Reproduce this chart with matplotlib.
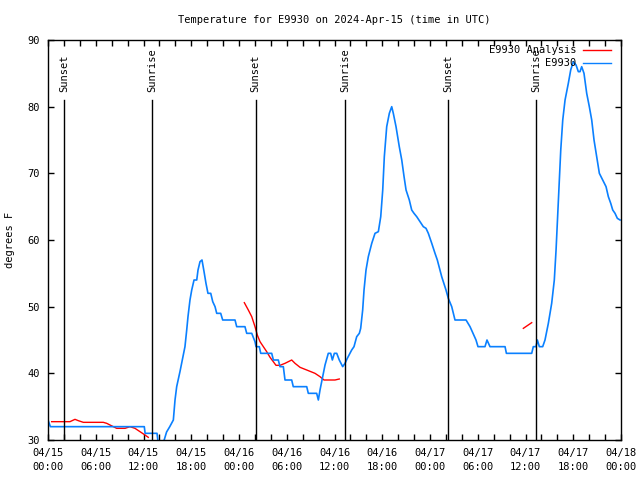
import matplotlib.pyplot as plt
import numpy as np
from matplotlib.ticker import MultipleLocator

# hours since 2024-04-15 00:00 UTC
obs_hours = [
    0.0, 0.3, 12.1, 12.2, 13.7, 13.9, 14.2, 14.6, 14.9, 15.3, 15.75, 15.96,
    16.17, 16.59, 16.96, 17.21, 17.43, 17.59, 17.84, 18.06, 18.35, 18.69,
    18.85, 19.1, 19.35, 19.6, 19.85, 20.1, 20.45, 20.7, 20.99, 21.2, 21.7,
    21.95, 23.5, 23.71, 24.75, 24.97, 25.6, 26.01, 26.14, 26.55, 26.73,
    28.11, 28.32, 28.94, 29.15, 29.57, 29.78, 30.62, 30.82, 32.51, 32.71,
    33.76, 33.97, 34.18, 34.52, 34.81, 35.22, 35.52, 35.73, 35.98, 36.28,
    36.6, 37.03, 37.32, 37.61, 38.16, 38.45, 38.79, 39.12, 39.29, 39.54,
    39.71, 39.96, 40.25, 40.68, 41.09, 41.51, 41.81, 42.06, 42.26, 42.56,
    42.89, 43.19, 43.39, 43.73, 44.14, 44.45, 44.74, 44.99, 45.4, 45.7,
    45.99, 46.33, 46.75, 47.16, 47.5, 47.79, 48.22, 48.63, 48.92, 49.47,
    50.01, 50.3, 50.73, 51.14, 51.77, 52.53, 53.03, 53.41, 53.78, 54.03,
    54.91, 55.16, 55.54, 57.43, 57.6, 60.78, 60.98, 61.32, 61.49, 61.74,
    62.16, 62.45, 62.87, 63.29, 63.62, 63.84, 64.0, 64.25, 64.43, 64.68,
    64.97, 65.38, 65.68, 66.01, 66.35, 66.64, 66.85, 67.06, 67.35, 67.69,
    68.02, 68.32, 68.61, 68.95, 69.28, 69.7, 70.12, 70.41, 70.71, 70.96,
    71.25, 71.54, 71.88,
]
obs_temps = [
    33, 32, 32, 31, 31, 29, 29, 30, 31.2, 32, 33, 36,
    38, 40.3, 42.5, 44, 46.5, 48.5, 51, 52.5, 54, 54,
    55.5, 56.75, 57, 55.3, 53.5, 52, 52, 50.75, 50, 49, 49,
    48, 48, 47, 47, 46, 46, 44.75, 44, 44, 43,
    43, 42, 42, 41, 41, 39, 39, 38, 38, 37,
    37, 36, 37.5, 39.5, 41.25, 43, 43, 42, 43, 43,
    42, 41, 41.5, 42.25, 43.5, 44, 45.5, 46, 46.75, 49.5,
    52.5, 55.5, 57.5, 59.5, 61, 61.25, 63.5, 67.5, 72.5, 77,
    79, 80, 79, 77, 74, 72, 69.5, 67.5, 66, 64.5,
    64, 63.5, 62.75, 62, 61.75, 61, 59.5, 58, 57, 54.5,
    52.5, 51.25, 50, 48, 48, 48, 47, 46, 45, 44,
    44, 45, 44, 44, 43, 43, 44, 44, 45, 44,
    44, 45, 47.5, 50.5, 54, 58.5, 62.5, 69, 73.5, 78,
    81, 83.5, 85.5, 86.75, 86.25, 85.25, 85.25, 86, 85, 82,
    80, 78, 75, 72.5, 70, 69, 68, 66.5, 65.5, 64.5,
    64, 63.25, 63,
]

# analysis series, NaN marks the gaps
ana_hours = [
    0.46, 2.76, 3.39, 3.81, 4.44, 6.95, 7.38, 7.79, 8.63, 9.68, 10.3, 10.93,
    11.56, 12.19, 12.6, np.nan,
    24.67, 25.17, 25.6, 26.01, 26.3, 26.64, 27.06, 27.48, 27.9, 28.31, 28.65,
    29.15, 29.78, 30.62, 31.04, 31.67, 32.51, 33.55, 34.18, 34.68, 36.06,
    36.6, np.nan,
    59.73, 60.78,
]
ana_temps = [
    32.75, 32.75, 33.1, 32.9, 32.65, 32.65, 32.5, 32.25, 31.75, 31.75, 32,
    31.75, 31.25, 30.75, 30.4, np.nan,
    50.6, 49.5, 48.5, 47, 45.75, 44.75, 44, 43.25, 42.4, 41.75, 41.2, 41.2,
    41.5, 42, 41.5, 40.9, 40.5, 40, 39.5, 39, 39, 39.15, np.nan,
    46.75, 47.6,
]

sun_hours = [2.0, 13.07, 26.1, 37.3, 50.25, 61.3]
sun_labels = ["Sunset", "Sunrise", "Sunset", "Sunrise", "Sunset", "Sunrise"]

tick_hours = [0, 6, 12, 18, 24, 30, 36, 42, 48, 54, 60, 66, 72]
tick_labels = [
    "04/15\n00:00", "04/15\n06:00", "04/15\n12:00", "04/15\n18:00",
    "04/16\n00:00", "04/16\n06:00", "04/16\n12:00", "04/16\n18:00",
    "04/17\n00:00", "04/17\n06:00", "04/17\n12:00", "04/17\n18:00",
    "04/18\n00:00",
]

RED = "#ff0000"
BLUE = "#0a80ff"
FONT = "DejaVu Sans Mono"
FS = 7.5

plt.rcParams["font.family"] = FONT
plt.rcParams["font.size"] = FS

fig = plt.figure(figsize=(6.4, 4.8), dpi=100)
ax = fig.add_axes([48 / 640, 40 / 480, 573 / 640, 400 / 480])

ax.plot(ana_hours, ana_temps, color=RED, lw=1.0)
ax.plot(obs_hours, obs_temps, color=BLUE, lw=1.2)

for h, lbl in zip(sun_hours, sun_labels):
    ax.plot([h, h], [30, 81], color="black", lw=1.0)
    ax.text(h, 82.2, lbl, rotation=90, ha="center", va="bottom", fontsize=FS)

ax.set_xlim(0, 72)
ax.set_ylim(30, 90)
ax.set_xticks(tick_hours)
ax.set_xticklabels(tick_labels, linespacing=1.5)
ax.xaxis.set_minor_locator(MultipleLocator(2))
ax.set_yticks(range(30, 91, 10))
ax.tick_params(which="both", direction="in", top=True, right=True,
               length=4, width=1.0, labelsize=FS, pad=6)
for s in ax.spines.values():
    s.set_linewidth(1.0)

ax.set_ylabel("degrees F", fontsize=FS, labelpad=9)
ax.set_title("Temperature for E9930 on 2024-Apr-15 (time in UTC)",
             fontsize=FS, pad=12)

# gnuplot-style key: right-aligned text with the sample to its right
key_rows = [("E9930 Analysis", RED), ("E9930", BLUE)]
for i, (name, col) in enumerate(key_rows):
    y = 0.975 - i * 0.033
    ax.text(0.922, y, name, transform=ax.transAxes, ha="right", va="center",
            fontsize=FS)
    ax.plot([0.934, 0.982], [y, y], transform=ax.transAxes, color=col, lw=1.0)

fig.savefig("out.png", dpi=100)
